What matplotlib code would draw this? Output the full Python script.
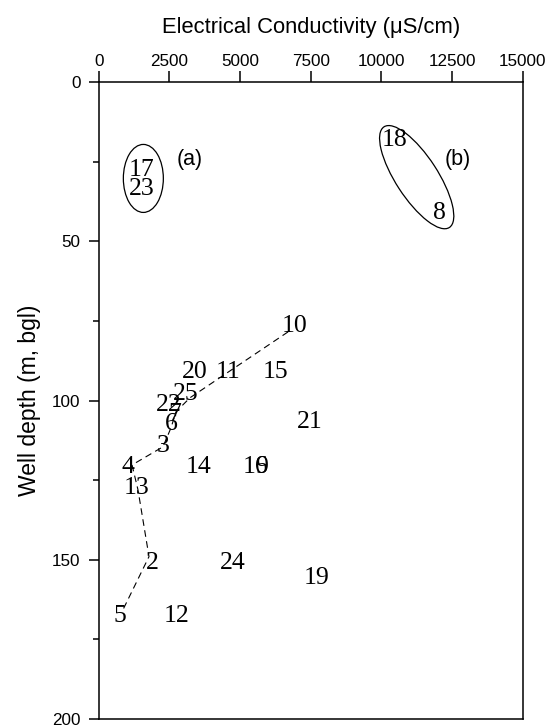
import matplotlib
matplotlib.use("Agg")
import matplotlib.pyplot as plt
from matplotlib.patches import Ellipse
from matplotlib.transforms import ScaledTranslation
from matplotlib.ticker import MultipleLocator

# well labels: EC (uS/cm), depth (m bgl)
wells = ["17", "23", "18", "8", "10", "20", "11", "15", "25", "22", "7", "6",
         "21", "3", "4", "14", "16", "9", "13", "2", "24", "19", "5", "12"]
ec = [1520, 1520, 10480, 12070, 6940, 3400, 4590, 6240, 3090, 2490, 2700, 2580,
      7470, 2290, 1050, 3520, 5560, 5770, 1340, 1880, 4760, 7710, 750, 2740]
depth = [27.5, 33.6, 18.1, 41.1, 76.7, 90.9, 90.9, 90.9, 97.9, 101.3, 104.1, 107.3,
         106.6, 114.4, 120.7, 120.7, 120.7, 120.7, 127.5, 151.0, 151.0, 155.7, 167.8, 167.8]

# dashed profile line
prof_ec = [6700, 3230, 2735, 2560, 2275, 1180, 1390, 1780, 825]
prof_depth = [78.4, 99.1, 103.5, 108.5, 114.5, 120.2, 128.0, 149.0, 166.3]

xticks = [0, 2500, 5000, 7500, 10000, 12500, 15000]
yticks = [0, 50, 100, 150, 200]

fig = plt.figure(figsize=(5.55, 7.25), dpi=100)
ax = fig.add_axes([0.1778, 0.0083, 0.7640, 0.8782])

ax.plot(prof_ec, prof_depth, color="black", lw=0.8, ls=(0, (6, 4)))

for w, x, y in zip(wells, ec, depth):
    ax.text(x, y, w, ha="center", va="center", fontsize=18.5,
            family="Liberation Serif")

ax.text(3205, 24.2, "(a)", ha="center", va="center", fontsize=15.5,
        family="Liberation Sans")
ax.text(12685, 24.4, "(b)", ha="center", va="center", fontsize=15.5,
        family="Liberation Sans")

# group ellipses, size given in inches so they keep their shape
ell_a = Ellipse((0, 0), 0.40, 0.68, fill=False, lw=0.9, color="black",
                transform=fig.dpi_scale_trans + ScaledTranslation(1580, 30.2, ax.transData))
ell_b = Ellipse((0, 0), 1.20, 0.42, angle=-57, fill=False, lw=0.9, color="black",
                transform=fig.dpi_scale_trans + ScaledTranslation(11250, 29.8, ax.transData))
ax.add_patch(ell_a)
ax.add_patch(ell_b)

ax.set_xlim(0, 15000)
ax.set_ylim(200, 0)
ax.set_xticks(xticks)
ax.set_yticks(yticks)
ax.yaxis.set_minor_locator(MultipleLocator(25))
ax.xaxis.tick_top()
ax.xaxis.set_label_position("top")
ax.tick_params(axis="x", which="major", direction="out", length=8, width=1.1,
               pad=1.5, labelsize=12.3, bottom=False, top=True)
ax.tick_params(axis="y", which="major", direction="out", length=7, width=1.1,
               pad=6, labelsize=12.3, right=False)
ax.tick_params(axis="y", which="minor", direction="out", length=4, width=1.1,
               right=False)
for lab in ax.get_xticklabels() + ax.get_yticklabels():
    lab.set_family("Liberation Sans")
for s in ax.spines.values():
    s.set_linewidth(1.1)

ax.set_xlabel("Electrical Conductivity (\u03bcS/cm)", fontsize=15.8,
              family="Liberation Sans", labelpad=15)
ax.set_ylabel("Well depth (m, bgl)", fontsize=16.5, family="Liberation Sans",
              labelpad=8)

fig.savefig("out.png", dpi=100)
